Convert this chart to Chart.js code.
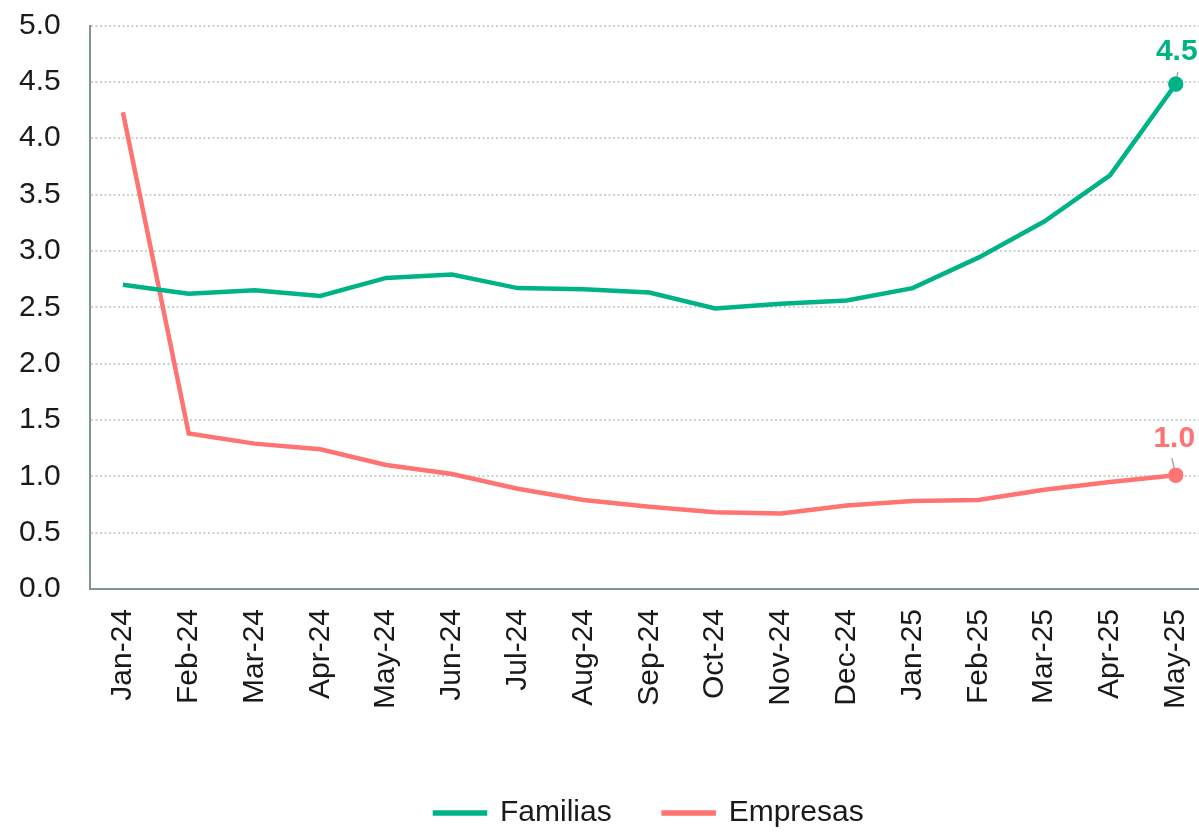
<!DOCTYPE html>
<html>
<head>
<meta charset="utf-8">
<script src="https://cdn.jsdelivr.net/npm/chart.js@4.4.1/dist/chart.umd.min.js"></script>
<style>
    html, body { margin: 0; padding: 0; overflow: hidden; background: #ffffff; }
    #wrap { position: absolute; left: 0; top: 0; }
</style>
</head>
<body>
<div id="wrap"><canvas id="line-chart" width="1232" height="838"></canvas></div>
<script>
var labels = ["Jan-24", "Feb-24", "Mar-24", "Apr-24", "May-24", "Jun-24", "Jul-24", "Aug-24", "Sep-24",
    "Oct-24", "Nov-24", "Dec-24", "Jan-25", "Feb-25", "Mar-25", "Apr-25", "May-25"];
var familias = [2.70, 2.62, 2.65, 2.60, 2.76, 2.79, 2.67, 2.66, 2.63, 2.49, 2.53, 2.56, 2.67, 2.94, 3.26, 3.67, 4.48];
var empresas = [4.23, 1.38, 1.29, 1.24, 1.10, 1.02, 0.89, 0.79, 0.73, 0.68, 0.67, 0.74, 0.78, 0.79, 0.88, 0.95, 1.01];
var seriesNames = ["Familias", "Empresas"];
var endLabels = ["4.5", "1.0"];

var green = "#00b386";
var pink = "#ff7373";
var font = "'Liberation Sans', Arial, sans-serif";

// label at the last point, with a small grey leader line
var endLabelPlugin = {
    id: "endLabels",
    afterDatasetsDraw: (chart) => {
        var ctx = chart.ctx;
        var offsets = [{ lx: 2, ly: -12, tx: 1, ty: -24 }, { lx: -4, ly: -17, tx: -1.5, ty: -28 }];
        chart.data.datasets.forEach((ds, i) => {
            var meta = chart.getDatasetMeta(i);
            var pt = meta.data[meta.data.length - 1];
            var o = offsets[i];
            ctx.save();
            ctx.strokeStyle = "#a6a6a6";
            ctx.lineWidth = 1.5;
            ctx.beginPath();
            ctx.moveTo(pt.x, pt.y - 1);
            ctx.lineTo(pt.x + o.lx, pt.y + o.ly);
            ctx.stroke();
            pt.draw(ctx);
            ctx.fillStyle = ds.borderColor;
            ctx.font = "bold 30px " + font;
            ctx.textAlign = "center";
            ctx.textBaseline = "alphabetic";
            ctx.fillText(endLabels[i], pt.x + o.tx, pt.y + o.ty);
            ctx.restore();
        });
    }
};

var lastOnly = (ctx) => ctx.dataIndex === labels.length - 1 ? 7.5 : 0;

var PlotLineChart = () => {
    var canvas = document.getElementById("line-chart").getContext("2d");
    var chart = new Chart(canvas, {
        type: "line",
        data: {
            labels: labels,
            datasets: [{
                label: seriesNames[0],
                data: familias,
                borderColor: green,
                backgroundColor: green,
                borderWidth: 4.5,
                pointRadius: lastOnly,
                pointHoverRadius: lastOnly,
                pointBorderWidth: 0,
                tension: 0
            }, {
                label: seriesNames[1],
                data: empresas,
                borderColor: pink,
                backgroundColor: pink,
                borderWidth: 4.5,
                pointRadius: lastOnly,
                pointHoverRadius: lastOnly,
                pointBorderWidth: 0,
                tension: 0
            }]
        },
        options: {
            responsive: false,
            animation: false,
            layout: { padding: { top: 25.5, left: 19, right: 2, bottom: 0 } },
            plugins: {
                tooltip: { enabled: false },
                legend: {
                    position: "bottom",
                    fullSize: false,
                    labels: {
                        boxWidth: 50,
                        boxHeight: 1,
                        padding: 52,
                        color: "#1a1a1a",
                        font: { family: font, size: 30 }
                    }
                }
            },
            scales: {
                x: {
                    offset: true,
                    grid: { display: false, drawTicks: false },
                    border: { display: true, color: "#7f9494", width: 2 },
                    ticks: {
                        minRotation: 90,
                        maxRotation: 90,
                        padding: 20,
                        color: "#1a1a1a",
                        font: { family: font, size: 30 }
                    },
                    afterFit: (scale) => { scale.height = 157; }
                },
                y: {
                    min: 0,
                    max: 5,
                    grid: { color: "#cfcfcf", lineWidth: 2, drawTicks: false },
                    border: { display: true, color: "#7f9494", width: 2, dash: [2, 2.5] },
                    ticks: {
                        stepSize: 0.5,
                        padding: 3,
                        crossAlign: "far",
                        color: "#1a1a1a",
                        font: { family: font, size: 30 },
                        callback: (v) => v.toFixed(1)
                    },
                    afterFit: (scale) => { scale.width = 71; }
                }
            }
        },
        plugins: [endLabelPlugin]
    });
};
PlotLineChart();
</script>
</body>
</html>
